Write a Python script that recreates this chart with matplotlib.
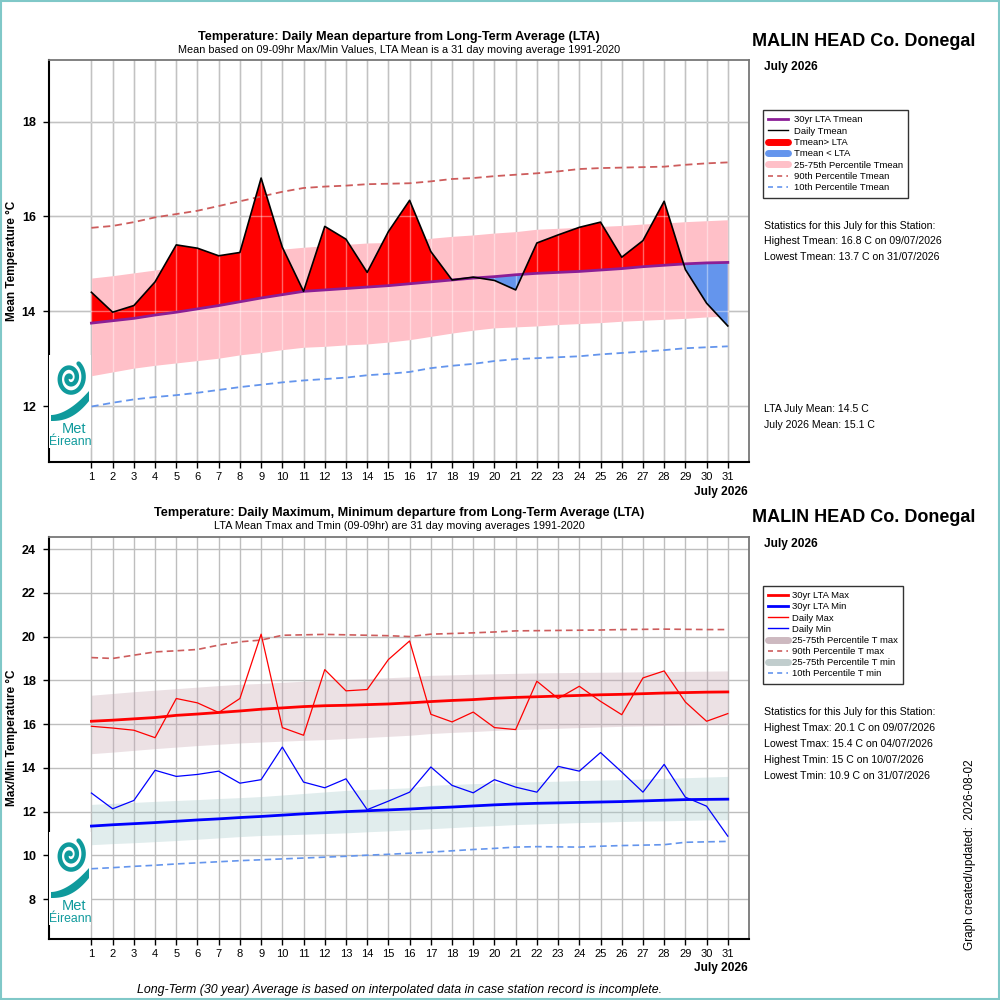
import numpy as np
import matplotlib
matplotlib.use('Agg')
import matplotlib.pyplot as plt
from matplotlib.lines import Line2D
from matplotlib.patches import Rectangle, Polygon

plt.rcParams['font.family'] = ['Liberation Sans', 'DejaVu Sans']

# ---------------- data ----------------
days = list(range(1, 32))

tmean = [14.40, 13.98, 14.12, 14.62, 15.40, 15.33, 15.17, 15.24, 16.81, 15.35,
         14.42, 15.79, 15.52, 14.82, 15.68, 16.34, 15.26, 14.66, 14.72, 14.65,
         14.45, 15.44, 15.61, 15.77, 15.88, 15.14, 15.49, 16.32, 14.88, 14.17, 13.69]
lta_tmean = [13.75, 13.80, 13.85, 13.92, 13.98, 14.05, 14.12, 14.20, 14.28, 14.35,
             14.42, 14.45, 14.48, 14.51, 14.54, 14.58, 14.62, 14.66, 14.70, 14.73,
             14.77, 14.80, 14.82, 14.84, 14.87, 14.90, 14.94, 14.97, 15.00, 15.02, 15.03]
p75_tmean = [14.70, 14.75, 14.81, 14.87, 14.93, 14.99, 15.05, 15.12, 15.21, 15.31,
             15.35, 15.38, 15.41, 15.44, 15.45, 15.47, 15.54, 15.58, 15.61, 15.65,
             15.68, 15.73, 15.75, 15.77, 15.79, 15.81, 15.84, 15.86, 15.89, 15.91, 15.93]
p25_tmean = [12.64, 12.72, 12.80, 12.86, 12.91, 12.96, 13.01, 13.08, 13.13, 13.19,
             13.24, 13.26, 13.29, 13.31, 13.35, 13.40, 13.47, 13.54, 13.60, 13.65,
             13.67, 13.69, 13.72, 13.74, 13.76, 13.79, 13.81, 13.83, 13.85, 13.88, 13.90]
p90_tmean = [15.76, 15.80, 15.88, 15.98, 16.05, 16.12, 16.22, 16.32, 16.42, 16.52,
             16.60, 16.63, 16.65, 16.68, 16.69, 16.70, 16.74, 16.79, 16.81, 16.85,
             16.88, 16.91, 16.95, 17.00, 17.02, 17.03, 17.04, 17.05, 17.09, 17.12, 17.14]
p10_tmean = [11.99, 12.07, 12.14, 12.19, 12.23, 12.28, 12.34, 12.40, 12.45, 12.50,
             12.54, 12.57, 12.60, 12.65, 12.68, 12.72, 12.80, 12.85, 12.89, 12.95,
             12.99, 13.01, 13.03, 13.05, 13.09, 13.12, 13.15, 13.18, 13.22, 13.24, 13.26]

tmax = [15.90, 15.82, 15.72, 15.38, 17.17, 16.97, 16.53, 17.17, 20.11, 15.84,
        15.49, 18.49, 17.52, 17.58, 18.95, 19.80, 16.45, 16.10, 16.55, 15.84,
        15.75, 17.96, 17.17, 17.73, 17.04, 16.43, 18.11, 18.43, 17.01, 16.13, 16.48]
tmin = [12.85, 12.13, 12.51, 13.89, 13.61, 13.70, 13.85, 13.30, 13.46, 14.95,
        13.35, 13.09, 13.50, 12.09, 12.48, 12.89, 14.04, 13.20, 12.86, 13.46,
        13.12, 12.89, 14.07, 13.85, 14.70, 13.81, 12.89, 14.16, 12.66, 12.25, 10.88]
lta_tmax = [16.13, 16.18, 16.24, 16.30, 16.40, 16.46, 16.53, 16.60, 16.68, 16.74,
            16.80, 16.84, 16.86, 16.89, 16.92, 16.97, 17.03, 17.08, 17.12, 17.18,
            17.22, 17.25, 17.28, 17.31, 17.34, 17.36, 17.39, 17.42, 17.44, 17.46, 17.47]
lta_tmin = [11.34, 11.40, 11.45, 11.50, 11.56, 11.62, 11.67, 11.73, 11.78, 11.84,
            11.90, 11.95, 12.00, 12.04, 12.08, 12.12, 12.17, 12.21, 12.26, 12.31,
            12.35, 12.38, 12.40, 12.42, 12.44, 12.46, 12.49, 12.52, 12.55, 12.56, 12.57]
p75_tmax = [17.32, 17.40, 17.48, 17.55, 17.62, 17.69, 17.76, 17.82, 17.86, 17.91,
            17.96, 18.00, 18.04, 18.08, 18.12, 18.16, 18.23, 18.25, 18.28, 18.30,
            18.32, 18.34, 18.35, 18.36, 18.37, 18.38, 18.39, 18.40, 18.41, 18.42, 18.43]
p25_tmax = [14.65, 14.72, 14.80, 14.88, 14.95, 15.02, 15.08, 15.14, 15.18, 15.22,
            15.26, 15.29, 15.34, 15.39, 15.44, 15.49, 15.57, 15.62, 15.66, 15.71,
            15.75, 15.78, 15.81, 15.84, 15.87, 15.90, 15.92, 15.94, 15.96, 15.98, 15.99]
p75_tmin = [12.33, 12.38, 12.42, 12.47, 12.51, 12.55, 12.60, 12.64, 12.69, 12.76,
            12.83, 12.90, 12.97, 13.01, 13.05, 13.09, 13.20, 13.24, 13.28, 13.31,
            13.35, 13.37, 13.39, 13.42, 13.44, 13.46, 13.49, 13.52, 13.55, 13.58, 13.61]
p25_tmin = [10.49, 10.54, 10.58, 10.63, 10.68, 10.74, 10.80, 10.86, 10.91, 10.94,
            10.97, 11.00, 11.03, 11.08, 11.12, 11.17, 11.22, 11.27, 11.32, 11.36,
            11.41, 11.44, 11.47, 11.50, 11.52, 11.55, 11.57, 11.58, 11.60, 11.62, 11.63]
p90_tmax = [19.04, 19.00, 19.15, 19.30, 19.35, 19.41, 19.61, 19.76, 19.84, 20.06,
            20.08, 20.10, 20.08, 20.06, 20.04, 20.00, 20.11, 20.14, 20.17, 20.21,
            20.26, 20.27, 20.28, 20.29, 20.30, 20.32, 20.33, 20.34, 20.33, 20.32, 20.32]
p10_tmin = [9.39, 9.44, 9.50, 9.55, 9.61, 9.66, 9.71, 9.76, 9.80, 9.84,
            9.88, 9.92, 9.96, 10.01, 10.05, 10.10, 10.15, 10.21, 10.27, 10.32,
            10.38, 10.40, 10.39, 10.38, 10.42, 10.45, 10.47, 10.49, 10.60, 10.62, 10.64]

top_yticks = [12, 14, 16, 18]
bot_yticks = [8, 10, 12, 14, 16, 18, 20, 22, 24]

station = "MALIN HEAD Co. Donegal"
month_label = "July 2026"

top_legend_labels = ["30yr LTA Tmean", "Daily Tmean", "Tmean> LTA", "Tmean < LTA",
                     "25-75th Percentile Tmean", "90th Percentile Tmean", "10th Percentile Tmean"]
bot_legend_labels = ["30yr LTA Max", "30yr LTA Min", "Daily Max", "Daily Min",
                     "25-75th Percentile T max", "90th Percentile T max",
                     "25-75th Percentile T min", "10th Percentile T min"]
top_stats = ["Statistics for this July for this Station:",
             "Highest Tmean: 16.8 C on 09/07/2026",
             "Lowest Tmean: 13.7 C on 31/07/2026"]
top_means = ["LTA July Mean: 14.5 C", "July 2026 Mean: 15.1 C"]
bot_stats = ["Statistics for this July for this Station:",
             "Highest Tmax: 20.1 C on 09/07/2026",
             "Lowest Tmax: 15.4 C on 04/07/2026",
             "Highest Tmin: 15 C on 10/07/2026",
             "Lowest Tmin: 10.9 C on 31/07/2026"]

# ---------------- styles ----------------
PURPLE = '#8B1E96'
PINK = '#FFC0C8'
IRED = '#CD5C5C'
CBLUE = '#6495ED'
TEAL = '#0F9A9C'
GRID = '#BEBEBE'

fig = plt.figure(figsize=(10, 10), dpi=100)
fig.patch.set_facecolor('white')

def px(x, y):
    return x / 1000.0, 1 - y / 1000.0

def setup_axes(ax, ylim, yticks, gridcolor):
    ax.set_xlim(-1, 32)
    ax.set_ylim(*ylim)
    ax.set_xticks(days)
    ax.set_xticklabels([str(d) for d in days], fontsize=8)
    ax.set_yticks(yticks)
    ax.set_yticklabels([str(t) for t in yticks], fontsize=9, fontweight='bold')
    ax.tick_params(axis='both', direction='out', length=4.5, width=1, color='black')
    ax.tick_params(axis='x', pad=3)
    ax.tick_params(axis='y', pad=5)
    ax.grid(True, color=gridcolor, linewidth=1.0, zorder=0)
    ax.set_axisbelow(True)
    for s in ['top', 'right']:
        ax.spines[s].set_color('#777777')
        ax.spines[s].set_linewidth(1.3)
    for s in ['left', 'bottom']:
        ax.spines[s].set_color('black')
        ax.spines[s].set_linewidth(1.5)

def draw_logo(rect):
    lax = fig.add_axes(rect, zorder=5)
    lax.set_xlim(0, 42)
    lax.set_ylim(0, 93)
    lax.set_facecolor('white')
    for s in lax.spines.values():
        s.set_visible(False)
    lax.set_xticks([])
    lax.set_yticks([])
    t = np.linspace(0.8, 4.3 * np.pi, 300)
    r = 1.2 * t
    lax.plot(21 + r * np.cos(t) * 0.9, 70 + r * np.sin(t) * 1.1, color=TEAL, lw=3.2,
             solid_capstyle='round')
    xs = np.linspace(2, 40, 60)
    upper = 33 + 24 * ((xs - 2) / 38) ** 1.8
    lower = 27 + 20 * ((xs - 2) / 38) ** 2.4
    lax.add_patch(Polygon(np.column_stack([np.r_[xs, xs[::-1]], np.r_[upper, lower[::-1]]]),
                          closed=True, facecolor=TEAL, edgecolor='none'))
    lax.text(25, 19, "Met", color=TEAL, fontsize=10.5, ha='center', va='center')
    lax.text(21, 6, "Éireann", color=TEAL, fontsize=8.8, ha='center', va='center')

# ================= TOP CHART =================
l, b = px(49, 462)
ax1 = fig.add_axes([l, b, 0.700, 0.402])
setup_axes(ax1, (10.82, 19.3), top_yticks, '#9A9A9A')

ax1.fill_between(days, p25_tmean, p75_tmean, color=PINK, lw=0, zorder=1)
tm = np.array(tmean)
lt = np.array(lta_tmean)
ax1.fill_between(days, tm, lt, where=tm >= lt, interpolate=True, color='red', lw=0, zorder=1.2)
ax1.fill_between(days, tm, lt, where=tm < lt, interpolate=True, color=CBLUE, lw=0, zorder=1.2)
# light overlay of grid across filled areas
for d in days:
    ax1.axvline(d, color='white', alpha=0.4, lw=1.0, zorder=1.5)
for yv in top_yticks:
    ax1.axhline(yv, color='white', alpha=0.4, lw=1.0, zorder=1.5)
ax1.plot(days, p90_tmean, color=IRED, lw=1.3, dashes=(4, 2.5), zorder=2)
ax1.plot(days, p10_tmean, color=CBLUE, lw=1.3, dashes=(4, 2.5), zorder=2)
ax1.plot(days, lta_tmean, color=PURPLE, lw=2.0, zorder=3)
ax1.plot(days, tmean, color='black', lw=1.2, zorder=4)

fig.text(*px(12, 261), "Mean Temperature °C", rotation=90, ha='center', va='center',
         fontsize=8.5, fontweight='bold')

fig.text(*px(399, 37), "Temperature: Daily Mean departure from Long-Term Average (LTA)",
         ha='center', va='center', fontsize=9.2, fontweight='bold')
fig.text(*px(399, 50), "Mean based on 09-09hr Max/Min Values, LTA Mean is a 31 day moving average 1991-2020",
         ha='center', va='center', fontsize=7.8)
fig.text(*px(748, 492), month_label, ha='right', va='center', fontsize=8.6, fontweight='bold')
fig.text(*px(752, 41), station, ha='left', va='center', fontsize=13, fontweight='bold')
fig.text(*px(764, 67), month_label, ha='left', va='center', fontsize=8.6, fontweight='bold')

h_top = [Line2D([], [], color=PURPLE, lw=2),
         Line2D([], [], color='black', lw=1),
         Line2D([], [], color='red', lw=5, solid_capstyle='round'),
         Line2D([], [], color=CBLUE, lw=5, solid_capstyle='round'),
         Line2D([], [], color=PINK, lw=5, solid_capstyle='round'),
         Line2D([], [], color=IRED, lw=1.2, dashes=(3, 2.5)),
         Line2D([], [], color=CBLUE, lw=1.2, dashes=(3, 2.5))]
leg1 = fig.legend(h_top, top_legend_labels, loc='upper left', bbox_to_anchor=px(763, 110),
                  fontsize=6.8, frameon=True, fancybox=False, edgecolor='black',
                  handlelength=2.1, handletextpad=0.6, labelspacing=0.25,
                  borderpad=0.55, borderaxespad=0)
leg1.get_frame().set_linewidth(1.0)

for i, s in enumerate(top_stats):
    fig.text(*px(764, 226 + 15.5 * i), s, ha='left', va='center', fontsize=7.6)
for i, s in enumerate(top_means):
    fig.text(*px(764, 409 + 16 * i), s, ha='left', va='center', fontsize=7.6)

draw_logo([0.049, 1 - 0.448, 0.042, 0.093])

# ================= BOTTOM CHART =================
l, b = px(49, 939)
ax2 = fig.add_axes([l, b, 0.700, 0.402])
setup_axes(ax2, (6.18, 24.55), bot_yticks, GRID)

ax2.fill_between(days, p25_tmax, p75_tmax, color='#C9A9B4', alpha=0.35, lw=0, zorder=1)
ax2.fill_between(days, p25_tmin, p75_tmin, color='#A9CCCC', alpha=0.35, lw=0, zorder=1)
ax2.plot(days, p90_tmax, color=IRED, lw=1.2, dashes=(4, 2.5), zorder=2)
ax2.plot(days, p10_tmin, color=CBLUE, lw=1.2, dashes=(4, 2.5), zorder=2)
ax2.plot(days, lta_tmax, color='red', lw=2.0, zorder=3)
ax2.plot(days, lta_tmin, color='blue', lw=2.0, zorder=3)
ax2.plot(days, tmax, color='red', lw=0.9, zorder=4)
ax2.plot(days, tmin, color='blue', lw=0.9, zorder=4)

fig.text(*px(12, 738), "Max/Min Temperature °C", rotation=90, ha='center', va='center',
         fontsize=8.5, fontweight='bold')

fig.text(*px(399, 513), "Temperature: Daily Maximum, Minimum departure from Long-Term Average (LTA)",
         ha='center', va='center', fontsize=9.2, fontweight='bold')
fig.text(*px(399, 526), "LTA Mean Tmax and Tmin (09-09hr) are 31 day moving averages 1991-2020",
         ha='center', va='center', fontsize=7.8)
fig.text(*px(748, 968), month_label, ha='right', va='center', fontsize=8.6, fontweight='bold')
fig.text(*px(752, 518), station, ha='left', va='center', fontsize=13, fontweight='bold')
fig.text(*px(764, 544), month_label, ha='left', va='center', fontsize=8.6, fontweight='bold')

h_bot = [Line2D([], [], color='red', lw=2),
         Line2D([], [], color='blue', lw=2),
         Line2D([], [], color='red', lw=1),
         Line2D([], [], color='blue', lw=1),
         Line2D([], [], color='#CDB9C0', lw=5, solid_capstyle='round'),
         Line2D([], [], color=IRED, lw=1.2, dashes=(3, 2.5)),
         Line2D([], [], color='#C1CDCD', lw=5, solid_capstyle='round'),
         Line2D([], [], color=CBLUE, lw=1.2, dashes=(3, 2.5))]
leg2 = fig.legend(h_bot, bot_legend_labels, loc='upper left', bbox_to_anchor=px(763, 586),
                  fontsize=6.8, frameon=True, fancybox=False, edgecolor='black',
                  handlelength=2.1, handletextpad=0.45, labelspacing=0.23,
                  borderpad=0.55, borderaxespad=0)
leg2.get_frame().set_linewidth(1.0)

for i, s in enumerate(bot_stats):
    fig.text(*px(764, 712 + 16 * i), s, ha='left', va='center', fontsize=7.6)

draw_logo([0.049, 1 - 0.925, 0.042, 0.093])

fig.text(*px(970, 950), "Graph created/updated:  2026-08-02", rotation=90,
         ha='center', va='bottom', fontsize=8.5)
fig.text(*px(400, 990), "Long-Term (30 year) Average is based on interpolated data in case station record is incomplete.",
         ha='center', va='center', fontsize=8.9, style='italic')

# figure border
fig.patches.append(Rectangle((0.001, 0.001), 0.998, 0.998, transform=fig.transFigure,
                             fill=False, edgecolor='#80C8C8', lw=1.5, zorder=10))

fig.savefig('out.png', dpi=100, facecolor='white')
